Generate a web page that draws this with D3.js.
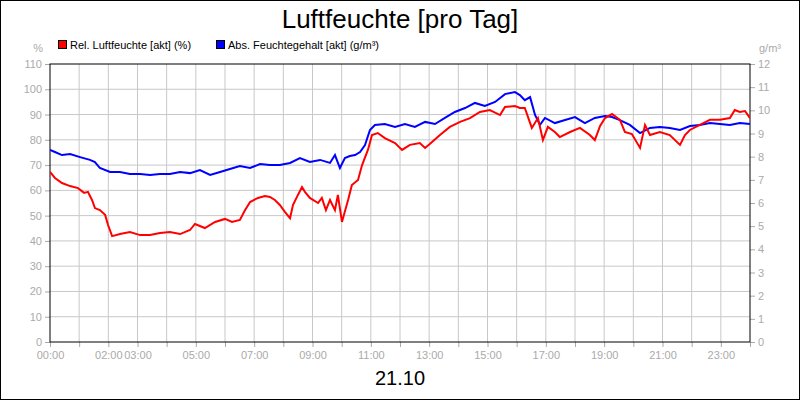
<!DOCTYPE html>
<html><head><meta charset="utf-8">
<script src="https://cdn.jsdelivr.net/npm/d3@7"></script>
<style>body{margin:0;background:#fff}svg{display:block;font-family:"Liberation Sans",Arial,sans-serif}</style>
</head><body><svg id="c" width="800" height="400"></svg>
<script>
const title = "Luftfeuchte [pro Tag]";
const dateLabel = "21.10";
const seriesNames = ["Rel. Luftfeuchte [akt] (%)", "Abs. Feuchtegehalt [akt] (g/m³)"];
const xTickHours = [0,2,3,5,7,9,11,13,15,17,19,21,23];
const xTickLabels = ["00:00","02:00","03:00","05:00","07:00","09:00","11:00","13:00","15:00","17:00","19:00","21:00","23:00"];
const leftTicks = [0,10,20,30,40,50,60,70,80,90,100,110];
const rightTicks = [0,1,2,3,4,5,6,7,8,9,10,11,12];
// [hour, %]
const relHum = [[0,67.3],[.17,64.9],[.41,62.9],[.69,61.7],[.96,60.9],[1.17,59],[1.3,59.4],[1.44,56.2],[1.54,53],[1.71,52.2],[1.89,50.3],[1.99,46.3],[2.13,41.9],[2.4,42.7],[2.74,43.5],[3.09,42.3],[3.43,42.3],[3.77,43.1],[4.11,43.5],[4.46,42.7],[4.8,44.3],[4.97,46.7],[5.31,45.1],[5.66,47.5],[6,48.7],[6.24,47.5],[6.51,48.3],[6.69,52.2],[6.86,55.4],[7.13,57],[7.37,57.8],[7.54,57.4],[7.71,56.2],[7.88,54.2],[8.06,51.4],[8.23,49],[8.33,54.2],[8.5,58.2],[8.64,61.3],[8.74,59.4],[8.91,57],[9.19,55],[9.32,57],[9.46,52.2],[9.6,56.2],[9.77,52.2],[9.87,58.2],[10.01,47.5],[10.22,56.2],[10.35,62.1],[10.56,64.1],[10.7,70],[10.9,76],[11.04,81.9],[11.24,82.7],[11.48,80.7],[11.83,78.7],[12.07,76],[12.34,78],[12.68,78.7],[12.86,76.8],[13.03,78.4],[13.37,81.9],[13.71,85.1],[14.06,87.1],[14.4,88.6],[14.74,91],[15.08,91.8],[15.43,89.8],[15.6,93],[15.94,93.4],[16.11,92.6],[16.28,92.6],[16.39,89],[16.52,84.7],[16.73,88.6],[16.9,79.9],[17.07,85.1],[17.31,83.1],[17.48,81.1],[17.83,83.1],[18.17,84.7],[18.51,81.9],[18.68,79.9],[18.86,85.5],[19.03,88.6],[19.27,90.2],[19.54,87.9],[19.71,83.1],[19.95,82.3],[20.23,76.8],[20.4,85.9],[20.57,81.9],[20.91,83.1],[21.25,81.9],[21.6,78],[21.77,81.9],[21.94,83.9],[22.28,85.9],[22.63,87.9],[22.97,87.9],[23.31,88.6],[23.48,91.8],[23.65,91],[23.83,91.4],[24,88.6]];
// [hour, g/m³]
const absHum = [[0,8.29],[.17,8.2],[.41,8.07],[.69,8.11],[1.03,7.98],[1.37,7.86],[1.54,7.77],[1.71,7.51],[2.06,7.34],[2.4,7.34],[2.74,7.25],[3.09,7.25],[3.43,7.21],[3.77,7.25],[4.11,7.25],[4.46,7.34],[4.8,7.29],[5.14,7.42],[5.49,7.21],[5.83,7.34],[6.17,7.47],[6.51,7.6],[6.86,7.51],[7.2,7.68],[7.54,7.64],[7.88,7.64],[8.23,7.73],[8.57,7.94],[8.91,7.77],[9.26,7.86],[9.6,7.73],[9.77,8.07],[9.94,7.51],[10.11,7.94],[10.28,8.03],[10.46,8.07],[10.63,8.2],[10.8,8.5],[10.97,9.15],[11.14,9.37],[11.48,9.41],[11.83,9.28],[12.17,9.41],[12.51,9.28],[12.86,9.5],[13.2,9.41],[13.54,9.67],[13.88,9.93],[14.23,10.1],[14.57,10.32],[14.91,10.19],[15.26,10.36],[15.6,10.7],[15.94,10.79],[16.11,10.66],[16.28,10.44],[16.46,10.57],[16.63,9.8],[16.8,9.37],[16.97,9.67],[17.31,9.45],[17.66,9.58],[18,9.71],[18.34,9.45],[18.68,9.67],[19.03,9.75],[19.27,9.71],[19.54,9.58],[19.88,9.37],[20.23,9.02],[20.57,9.24],[20.91,9.28],[21.25,9.24],[21.6,9.15],[21.94,9.32],[22.28,9.37],[22.63,9.45],[22.97,9.41],[23.31,9.37],[23.65,9.45],[24,9.41]];

const svg = d3.select("#c");
const L=50,R=750,T=64,B=342;
const x = d3.scaleLinear().domain([0,24]).range([L,R]);
const yL = d3.scaleLinear().domain([0,110]).range([B,T]);
const yR = d3.scaleLinear().domain([0,12]).range([B,T]);
const grey="#aaa", grid="#c8c8c8";

svg.append("rect").attr("x",0.5).attr("y",0.5).attr("width",799).attr("height",399).attr("fill","#fff").attr("stroke","#000");
svg.append("text").attr("x",400).attr("y",28).attr("text-anchor","middle").attr("font-size",26).text(title);

// grid
const g = svg.append("g");
d3.range(1,24).forEach(h=>g.append("line").attr("x1",x(h)).attr("x2",x(h)).attr("y1",T).attr("y2",B).attr("stroke",grid));
leftTicks.slice(1,-1).forEach(v=>g.append("line").attr("x1",L).attr("x2",R).attr("y1",yL(v)).attr("y2",yL(v)).attr("stroke",grid));

// axes
const axL = d3.axisLeft(yL).tickValues(leftTicks).tickSize(5).tickPadding(3);
const axR = d3.axisRight(yR).tickValues(rightTicks).tickSize(5).tickPadding(3);
const axB = d3.axisBottom(x).tickValues(d3.range(0,25)).tickSize(5).tickFormat((d)=>{const i=xTickHours.indexOf(d);return i>=0?xTickLabels[i]:"";}).tickPadding(4);
function style(sel){sel.select(".domain").remove();sel.selectAll("line").attr("stroke",grey);sel.selectAll("text").attr("fill",grey).attr("font-size",11).attr("font-family","Liberation Sans, Arial");}
svg.append("g").attr("transform",`translate(${L},0)`).call(axL).call(style);
svg.append("g").attr("transform",`translate(${R},0)`).call(axR).call(style);
svg.append("g").attr("transform",`translate(0,${B})`).call(axB).call(style);
svg.append("rect").attr("x",L).attr("y",T).attr("width",R-L).attr("height",B-T).attr("fill","none").attr("stroke","#000");

svg.append("text").attr("x",43).attr("y",52).attr("text-anchor","end").attr("fill",grey).attr("font-size",11).text("%");
svg.append("text").attr("x",770).attr("y",52).attr("text-anchor","middle").attr("fill",grey).attr("font-size",11).text("g/m³");

// legend
const leg=[{n:seriesNames[0],c:"#ff0000",x:58},{n:seriesNames[1],c:"#0000ff",x:216}];
leg.forEach(d=>{svg.append("rect").attr("x",d.x+0.5).attr("y",40.5).attr("width",8).attr("height",8).attr("fill",d.c).attr("stroke","#000");
svg.append("text").attr("x",d.x+12).attr("y",49).attr("font-size",11).text(d.n);});

// lines
const clip = svg.append("clipPath").attr("id","cp").append("rect").attr("x",L).attr("y",T).attr("width",R-L).attr("height",B-T);
svg.append("path").datum(absHum).attr("clip-path","url(#cp)").attr("fill","none").attr("stroke","#0000ff").attr("stroke-width",2)
 .attr("d",d3.line().x(d=>x(d[0])).y(d=>yR(d[1])));
svg.append("path").datum(relHum).attr("clip-path","url(#cp)").attr("fill","none").attr("stroke","#ff0000").attr("stroke-width",2)
 .attr("d",d3.line().x(d=>x(d[0])).y(d=>yL(d[1])));

svg.append("text").attr("x",400).attr("y",385).attr("text-anchor","middle").attr("font-size",20).text(dateLabel);
</script></body></html>
